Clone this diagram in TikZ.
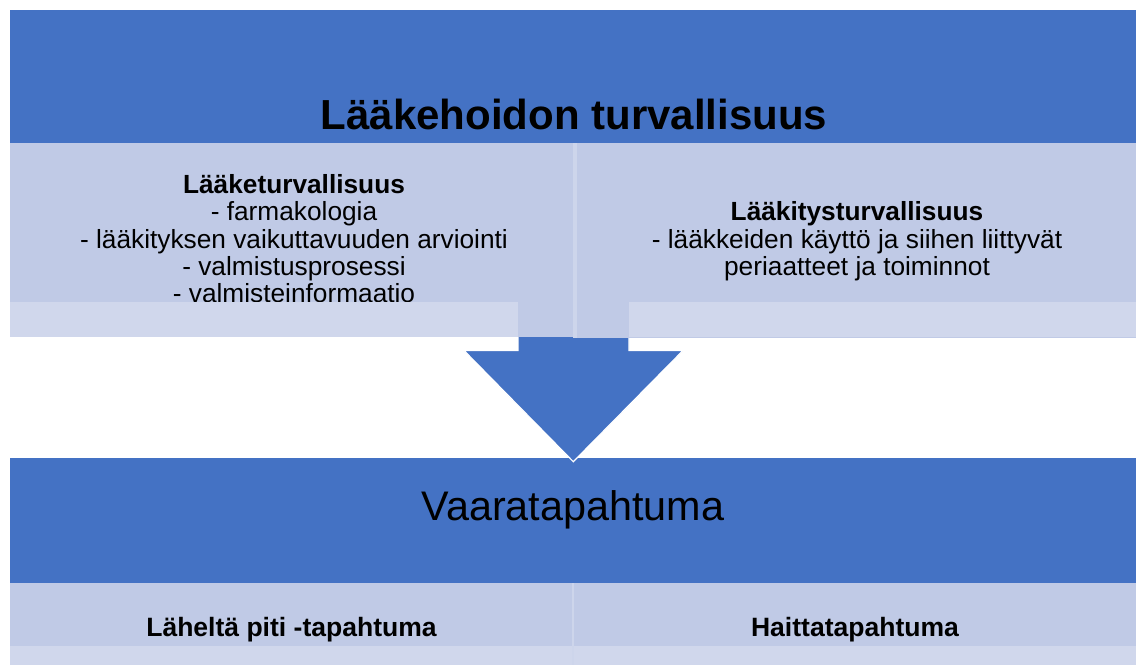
\documentclass[tikz,border=0pt]{standalone}
\usepackage{fontspec}
\setmainfont{Liberation Sans}
\definecolor{barblue}{HTML}{4472C4}
\definecolor{panelc}{HTML}{C0CAE6}
\definecolor{stripc}{HTML}{D0D7EC}
\definecolor{dividerc}{HTML}{CDD5EB}
\tikzset{
  sz/.style 2 args={minimum width=#1*0.75pt, minimum height=#2*0.75pt},
  box/.style={draw=none, inner sep=0pt, outer sep=0pt, anchor=north west},
  bar/.style={box, fill=barblue},
  panel/.style={box, fill=panelc},
  strip/.style={box, fill=stripc},
  divider/.style={draw=dividerc, line width=2.5pt},
  arrowshape/.style={fill=barblue, draw=white, line width=0.9pt, line join=miter},
  titletxt/.style={font=\bfseries\fontsize{31.5}{36}\selectfont, anchor=base, inner sep=0pt},
  bigtxt/.style={font=\fontsize{31}{36}\selectfont, anchor=base, inner sep=0pt},
  bodyline/.style={font=\fontsize{19.7}{21}\selectfont, anchor=base, inner sep=0pt},
  headline/.style={bodyline, font=\bfseries\fontsize{19.7}{21}\selectfont},
  labeltxt/.style={font=\bfseries\fontsize{19.9}{22}\selectfont, anchor=base, inner sep=0pt},
}
\begin{document}
\begin{tikzpicture}[x=0.75pt, y=-0.75pt]
\useasboundingbox (0,0) rectangle (1136,665);
% top bar
\node[bar, sz={1126}{133}] (topbar) at (10,10) {};
% bottom bar
\node[bar, sz={1126}{125}] (botbar) at (10,458) {};
% bottom panels
\node[panel, sz={563}{63}] (lowleft) at (10,583) {};
\node[panel, sz={563}{63}] (lowright) at (573,583) {};
\node[strip, sz={1126}{19}] (lowstrip) at (10,646) {};
\draw[divider, line width=1.5pt] (lowright.north west) -- (573,665);
% arrow
\coordinate (shaftL) at (518,320);
\coordinate (shaftR) at (629,320);
\coordinate (headL) at (464,350.5);
\coordinate (headR) at (683,350.5);
\coordinate (tip) at (573.3,461.7);
\draw[arrowshape] (shaftL) -- (shaftR) -- (629,350.5) -- (headR) -- (tip) -- (headL) -- (518,350.5) -- cycle;
% top panels
\node[panel, sz={565}{194}] (leftpanel) at (10,143) {};
\node[panel, sz={561}{195}] (rightpanel) at (575,143) {};
\draw[divider] (rightpanel.north west) -- (rightpanel.south west);
% texts
\node[titletxt] (title) at (574,129.3) {Lääkehoidon turvallisuus};
\node[headline] (l1) at (294,193.3) {Lääketurvallisuus};
\node[bodyline] (l2) at (294,220.6) {- farmakologia};
\node[bodyline] (l3) at (294,248) {- lääkityksen vaikuttavuuden arviointi};
\node[bodyline] (l4) at (294,275.3) {- valmistusprosessi};
\node[bodyline] (l5) at (294,302.7) {- valmisteinformaatio};
\node[headline] (r1) at (857,220.7) {Lääkitysturvallisuus};
\node[bodyline] (r2) at (857,248.2) {- lääkkeiden käyttö ja siihen liittyvät};
\node[bodyline] (r3) at (857,275.7) {periaatteet ja toiminnot};
% strips over the panels
\node[strip, sz={508}{35}] (leftstrip) at (10,302.3) {};
\node[strip, sz={507}{35}] (rightstrip) at (629,302.3) {};
\node[bigtxt] (vaara) at (573,520) {Vaaratapahtuma};
\node[labeltxt] (lahelta) at (291.5,636) {Läheltä piti -tapahtuma};
\node[labeltxt] (haitta) at (855,636) {Haittatapahtuma};
\end{tikzpicture}
\end{document}
